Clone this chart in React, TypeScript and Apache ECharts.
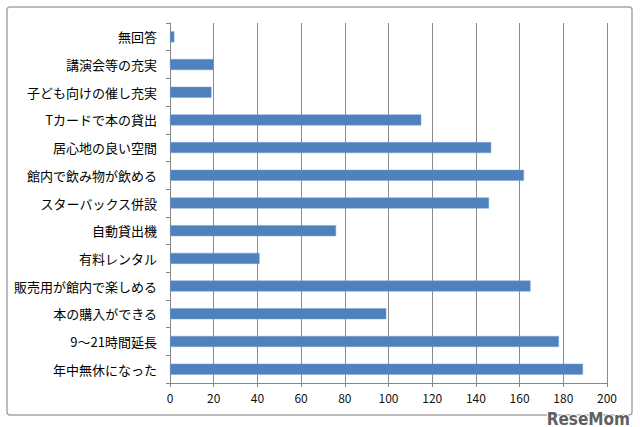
import React, { useEffect, useRef } from "react";
import * as echarts from "echarts";

const categories = [
  "無回答",
  "講演会等の充実",
  "子ども向けの催し充実",
  "Tカードで本の貸出",
  "居心地の良い空間",
  "館内で飲み物が飲める",
  "スターバックス併設",
  "自動貸出機",
  "有料レンタル",
  "販売用が館内で楽しめる",
  "本の購入ができる",
  "9～21時間延長",
  "年中無休になった",
];
const values = [2, 20, 19, 115, 147, 162, 146, 76, 41, 165, 99, 178, 189];
const xTicks = [0, 20, 40, 60, 80, 100, 120, 140, 160, 180, 200];

export default function App() {
  const ref = useRef<HTMLDivElement>(null);
  useEffect(() => {
    document.body.style.margin = "0";
    const chart = echarts.init(ref.current!, null, { renderer: "svg" });
    const font = "'Noto Sans CJK JP', 'Noto Sans', sans-serif";
    chart.setOption({
      animation: false,
      backgroundColor: "#ffffff",
      grid: { left: 170, right: 33, top: 23, bottom: 44, containLabel: false },
      xAxis: {
        type: "value",
        min: xTicks[0],
        max: xTicks[xTicks.length - 1],
        interval: 20,
        axisLine: { show: true, lineStyle: { color: "#868686", width: 1 } },
        axisTick: { show: true, length: 4, lineStyle: { color: "#868686" } },
        splitLine: { show: true, lineStyle: { color: "#8a8a8a", width: 1 } },
        axisLabel: { color: "#111111", fontSize: 12, fontFamily: font, margin: 8 },
      },
      yAxis: {
        type: "category",
        data: categories,
        inverse: true,
        axisLine: { show: true, lineStyle: { color: "#868686", width: 1 } },
        axisTick: { show: true, length: 4, lineStyle: { color: "#868686" } },
        splitLine: { show: false },
        axisLabel: { color: "#000000", fontSize: 13, fontFamily: font, margin: 13 },
      },
      series: [
        {
          type: "bar",
          data: values,
          barWidth: 11,
          itemStyle: { color: "#4F81BD", borderColor: "#7aa3d6", borderWidth: 0.5 },
        },
      ],
      graphic: [
        {
          type: "rect",
          shape: { x: 7, y: 7, width: 625, height: 408, r: 3 },
          style: { fill: "none", stroke: "#a6a6a6", lineWidth: 1.5 },
          silent: true,
          z: -1,
        },
        {
          type: "text",
          right: 9,
          top: 409,
          style: {
            text: "ReseMom",
            fill: "#5f5f5f",
            stroke: "#ffffff",
            lineWidth: 2,
            font: "bold 17px 'DejaVu Sans Condensed', 'DejaVu Sans', sans-serif",
          },
          z: 10,
        },
      ],
    });
    return () => chart.dispose();
  }, []);
  return <div ref={ref} style={{ width: 640, height: 427 }} />;
}
